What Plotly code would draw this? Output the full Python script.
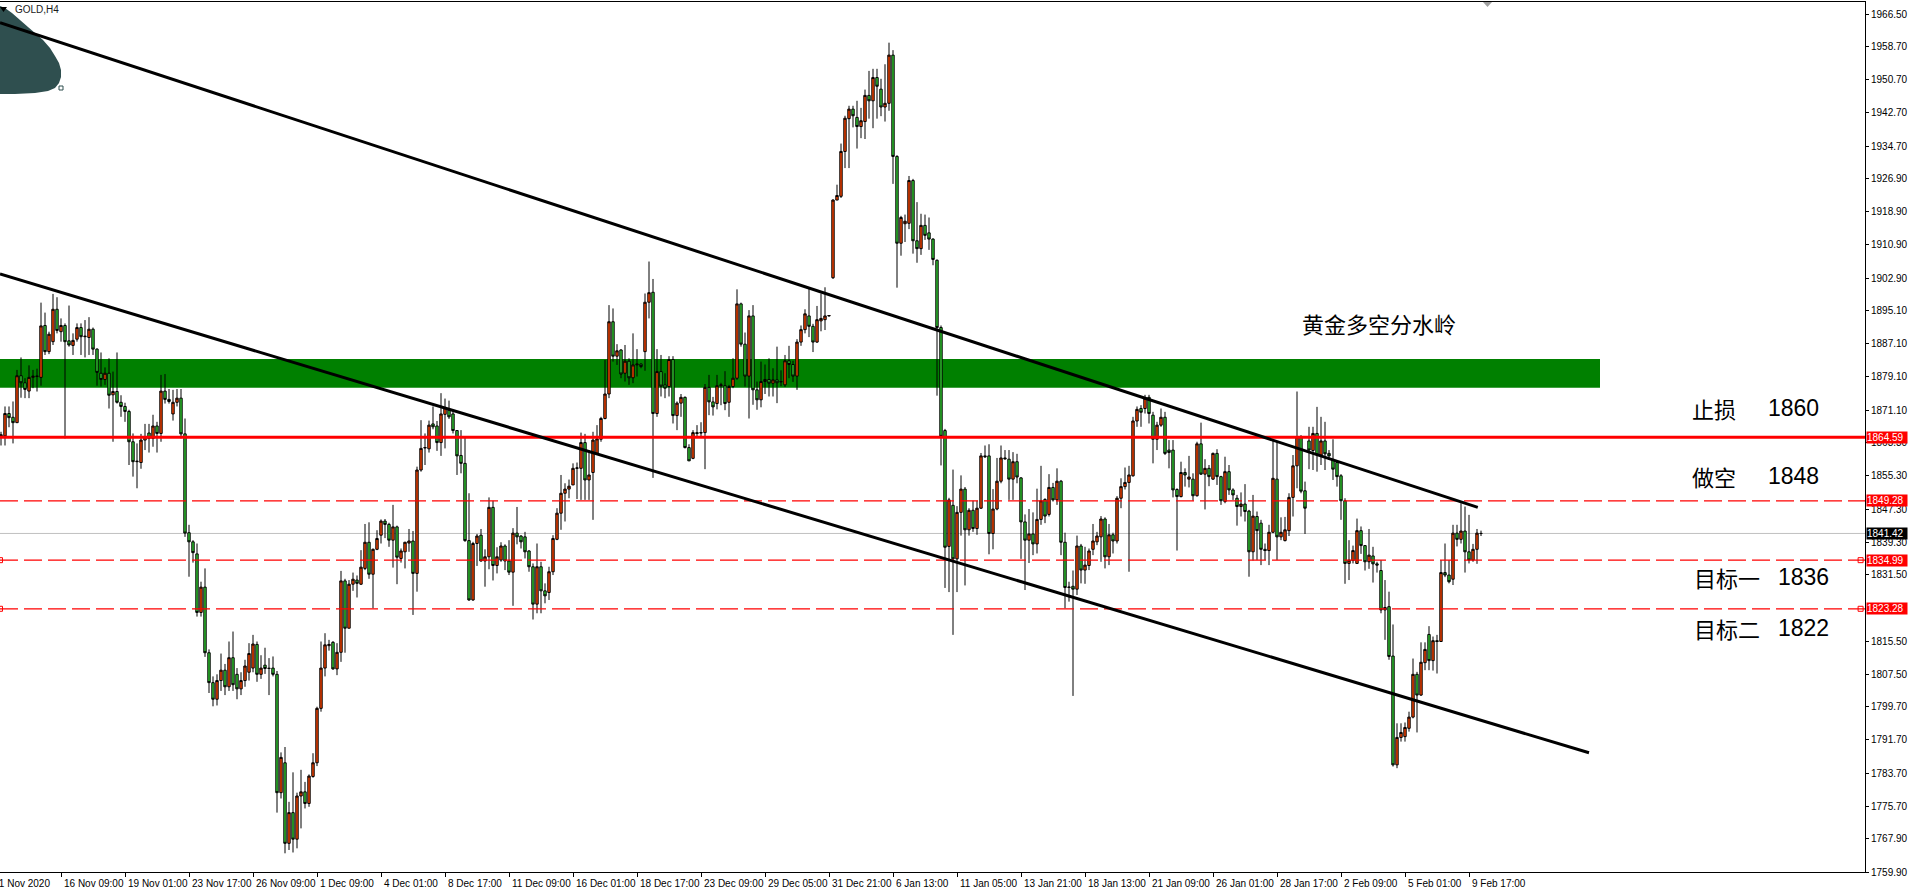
import plotly.graph_objects as go

# ---------------- data (GOLD, H4) ----------------
open_ = [
    1865.2, 1864.9, 1870.3, 1869.4, 1868.1, 1879.4, 1877.7, 1875.7, 1879.0, 1879.2,
    1879.0, 1891.5, 1885.2, 1887.6, 1895.4, 1890.0, 1891.5, 1887.8, 1886.7, 1888.2,
    1891.0, 1888.8, 1888.6, 1890.6, 1885.8, 1880.0, 1878.5, 1880.0, 1874.8, 1875.6,
    1873.0, 1872.0, 1870.8, 1863.5, 1858.7, 1858.5, 1863.9, 1865.6, 1864.3, 1867.3,
    1865.5, 1875.7, 1873.7, 1870.2, 1873.0, 1874.0, 1865.4, 1841.6, 1839.4, 1836.5,
    1822.4, 1828.5, 1812.7, 1805.5, 1801.5, 1806.0, 1808.5, 1804.5, 1811.5, 1807.5,
    1804.0, 1806.0, 1808.0, 1809.0, 1814.7, 1807.5, 1809.7, 1808.9, 1809.0, 1807.5,
    1779.0, 1786.2, 1766.8, 1774.2, 1767.8, 1778.2, 1779.2, 1776.4, 1782.9, 1786.2,
    1799.3, 1809.0, 1814.4, 1815.2, 1808.8, 1812.8, 1830.0, 1818.6, 1829.2, 1830.2,
    1829.2, 1833.0, 1839.3, 1831.6, 1837.6, 1841.0, 1844.4, 1843.6, 1839.8, 1843.0,
    1835.4, 1837.0, 1839.1, 1839.6, 1831.8, 1856.7, 1862.0, 1861.8, 1867.8, 1867.3,
    1863.3, 1870.1, 1871.1, 1870.2, 1866.2, 1860.2, 1858.3, 1839.7, 1825.4, 1839.0,
    1841.0, 1834.8, 1835.8, 1847.7, 1833.7, 1835.0, 1838.4, 1834.8, 1832.1, 1841.5,
    1840.8, 1840.6, 1837.2, 1833.4, 1824.4, 1833.4, 1827.6, 1827.2, 1832.2, 1840.0,
    1846.3, 1851.1, 1852.1, 1853.1, 1857.1, 1857.1, 1863.3, 1854.3, 1856.1, 1860.7,
    1864.1, 1869.1, 1875.0, 1892.4, 1884.1, 1885.6, 1880.0, 1882.9, 1878.9, 1882.0,
    1882.2, 1885.2, 1897.1, 1899.5, 1870.3, 1880.4, 1877.2, 1876.8, 1883.3, 1869.8,
    1872.8, 1874.2, 1862.1, 1859.5, 1865.7, 1865.6, 1865.7, 1876.6, 1873.1, 1872.7,
    1877.0, 1877.0, 1873.0, 1876.8, 1878.8, 1896.7, 1887.0, 1879.3, 1893.8, 1876.0,
    1873.6, 1878.0, 1878.5, 1877.6, 1878.4, 1877.9, 1877.2, 1883.0, 1882.1, 1879.3,
    1887.5, 1890.5, 1893.8, 1891.3, 1887.5, 1892.6, 1892.9, 1893.8, 1903.0, 1921.7,
    1922.6, 1933.4, 1941.3, 1943.6, 1941.6, 1939.4, 1940.6, 1946.9, 1945.6, 1951.2,
    1948.4, 1944.1, 1945.0, 1956.6, 1932.2, 1911.3, 1916.0, 1916.1, 1926.4, 1911.9,
    1910.0, 1915.6, 1913.8, 1912.3, 1907.2, 1891.0, 1866.2, 1838.3, 1848.2, 1835.3,
    1846.5, 1852.1, 1842.3, 1847.0, 1842.6, 1847.5, 1860.1, 1860.1, 1841.4, 1847.3,
    1854.0, 1859.6, 1859.3, 1854.5, 1858.7, 1854.8, 1844.2, 1839.8, 1841.3, 1838.9,
    1844.8, 1849.6, 1846.0, 1852.5, 1849.5, 1854.0, 1839.3, 1828.4, 1828.7, 1828.0,
    1838.4, 1832.6, 1833.7, 1837.6, 1839.4, 1840.6, 1844.9, 1835.8, 1841.1, 1839.6,
    1849.9, 1852.7, 1853.7, 1855.3, 1868.5, 1871.5, 1871.5, 1874.2, 1869.9, 1864.1,
    1867.5, 1869.4, 1861.5, 1861.5, 1852.0, 1850.3, 1856.1, 1854.5, 1854.5, 1850.5,
    1863.0, 1855.7, 1857.1, 1854.5, 1860.7, 1855.1, 1849.1, 1856.3, 1851.9, 1849.9,
    1847.9, 1848.5, 1846.8, 1837.0, 1845.5, 1843.9, 1837.6, 1837.3, 1841.7, 1854.5,
    1840.6, 1839.7, 1842.1, 1850.1, 1857.7, 1864.6, 1851.7, 1863.7, 1861.4, 1865.5,
    1860.3, 1863.7, 1860.7, 1859.1, 1858.5, 1855.3, 1849.3, 1834.2, 1834.9, 1834.2,
    1842.1, 1838.5, 1834.6, 1836.0, 1834.1, 1832.5, 1823.0, 1823.8, 1811.9, 1785.7,
    1792.3, 1792.5, 1794.5, 1797.2, 1807.5, 1802.5, 1810.3, 1817.1, 1810.8, 1815.6,
    1815.4, 1832.0, 1831.4, 1830.4, 1841.5, 1840.0, 1842.0, 1837.0, 1835.0, 1837.6,
    1841.4,
]
high = [
    1865.9, 1872.0, 1872.0, 1873.2, 1880.8, 1883.8, 1878.8, 1881.9, 1880.8, 1881.1,
    1897.0, 1894.6, 1890.0, 1899.1, 1898.3, 1893.2, 1892.0, 1896.3, 1889.6, 1892.0,
    1892.0, 1892.8, 1893.5, 1891.0, 1886.0, 1885.0, 1881.4, 1883.6, 1880.4, 1885.0,
    1874.7, 1872.9, 1871.2, 1865.5, 1863.1, 1865.4, 1867.8, 1867.8, 1870.0, 1868.3,
    1879.6, 1879.8, 1876.2, 1876.0, 1876.2, 1876.2, 1869.1, 1843.5, 1839.8, 1839.0,
    1829.8, 1833.0, 1813.5, 1807.0, 1807.5, 1812.5, 1810.0, 1815.4, 1817.8, 1809.0,
    1808.0, 1811.0, 1815.0, 1817.0, 1815.4, 1812.1, 1813.9, 1811.4, 1811.8, 1808.3,
    1788.7, 1790.0, 1776.8, 1783.9, 1779.0, 1784.5, 1781.6, 1783.4, 1788.5, 1799.7,
    1815.4, 1817.4, 1815.8, 1815.5, 1815.0, 1832.4, 1830.5, 1830.2, 1832.0, 1831.3,
    1837.4, 1843.7, 1844.1, 1837.8, 1842.2, 1844.8, 1844.9, 1844.0, 1848.3, 1843.3,
    1837.8, 1839.4, 1842.5, 1842.0, 1857.5, 1868.7, 1865.5, 1868.6, 1872.0, 1868.5,
    1875.2, 1873.9, 1873.4, 1871.0, 1866.3, 1866.3, 1864.7, 1851.1, 1839.4, 1841.3,
    1842.5, 1837.6, 1850.1, 1849.3, 1838.1, 1839.3, 1838.8, 1839.8, 1842.7, 1847.8,
    1841.0, 1841.8, 1837.4, 1834.2, 1839.0, 1834.6, 1829.4, 1833.4, 1841.0, 1847.5,
    1855.5, 1853.5, 1854.4, 1858.3, 1858.5, 1865.7, 1865.4, 1861.5, 1865.9, 1867.5,
    1869.5, 1883.2, 1896.4, 1895.6, 1887.0, 1885.8, 1886.8, 1883.6, 1889.6, 1885.8,
    1882.4, 1899.2, 1906.9, 1902.7, 1885.8, 1884.4, 1880.0, 1884.1, 1884.1, 1873.2,
    1875.0, 1874.4, 1862.9, 1866.3, 1867.5, 1868.2, 1877.4, 1879.6, 1874.3, 1879.6,
    1877.7, 1880.5, 1877.2, 1883.6, 1900.2, 1897.0, 1889.8, 1895.2, 1896.4, 1878.0,
    1882.8, 1882.1, 1883.6, 1881.2, 1886.4, 1880.7, 1884.4, 1886.6, 1883.0, 1888.2,
    1891.5, 1895.4, 1900.4, 1891.9, 1896.2, 1899.2, 1900.7, 1894.0, 1921.9, 1925.4,
    1935.3, 1942.0, 1944.4, 1944.4, 1945.6, 1943.9, 1948.3, 1952.8, 1953.3, 1953.3,
    1950.9, 1954.4, 1959.6, 1957.8, 1932.5, 1917.9, 1918.2, 1927.5, 1926.8, 1921.2,
    1918.4, 1918.2, 1917.5, 1912.5, 1907.4, 1891.5, 1866.6, 1850.0, 1856.8, 1848.0,
    1855.4, 1852.6, 1847.5, 1849.3, 1849.3, 1860.8, 1862.6, 1862.9, 1852.1, 1859.6,
    1862.6, 1861.5, 1861.5, 1861.0, 1860.6, 1855.0, 1846.0, 1847.3, 1846.5, 1852.2,
    1857.7, 1849.9, 1855.7, 1853.6, 1857.1, 1854.3, 1841.6, 1829.8, 1832.5, 1840.9,
    1838.9, 1838.2, 1837.8, 1843.7, 1841.8, 1845.6, 1845.3, 1843.7, 1841.6, 1850.4,
    1854.7, 1857.3, 1857.7, 1869.5, 1872.0, 1872.3, 1874.8, 1874.8, 1870.7, 1868.3,
    1871.5, 1870.7, 1863.9, 1863.9, 1852.3, 1858.7, 1857.1, 1860.1, 1855.9, 1863.5,
    1868.1, 1859.3, 1857.9, 1860.9, 1861.7, 1855.3, 1859.9, 1857.9, 1852.3, 1850.7,
    1851.3, 1853.3, 1847.1, 1850.7, 1846.7, 1844.7, 1839.0, 1843.5, 1863.9, 1863.5,
    1845.3, 1845.4, 1851.1, 1860.3, 1875.6, 1865.1, 1853.9, 1867.1, 1867.1, 1871.9,
    1869.5, 1868.3, 1861.5, 1864.1, 1859.1, 1855.7, 1849.9, 1839.8, 1838.5, 1845.0,
    1843.1, 1838.6, 1842.5, 1838.2, 1834.6, 1835.0, 1830.2, 1827.4, 1819.5, 1795.7,
    1795.7, 1795.9, 1798.5, 1811.3, 1808.1, 1815.2, 1815.2, 1819.1, 1816.6, 1817.0,
    1835.0, 1839.0, 1835.0, 1843.5, 1843.5, 1848.7, 1847.9, 1845.9, 1838.9, 1842.5,
    1842.1,
]
low = [
    1862.6, 1862.6, 1867.0, 1863.1, 1868.0, 1874.1, 1874.0, 1874.0, 1876.4, 1875.6,
    1877.0, 1884.4, 1884.6, 1886.8, 1889.6, 1887.6, 1864.3, 1886.4, 1884.4, 1887.6,
    1884.4, 1883.8, 1884.4, 1884.4, 1877.0, 1876.8, 1877.2, 1871.5, 1863.5, 1872.7,
    1869.5, 1868.3, 1857.9, 1855.1, 1852.3, 1857.0, 1861.5, 1860.9, 1862.3, 1860.9,
    1863.5, 1872.7, 1872.7, 1868.6, 1872.0, 1864.3, 1840.6, 1831.0, 1834.4, 1821.4,
    1821.4, 1811.7, 1803.0, 1799.8, 1800.0, 1803.5, 1802.5, 1803.5, 1803.5, 1801.5,
    1802.5, 1804.5, 1806.0, 1808.0, 1805.7, 1806.4, 1807.6, 1802.5, 1807.0, 1774.2,
    1777.6, 1764.4, 1765.2, 1764.6, 1765.6, 1770.4, 1775.2, 1775.6, 1782.6, 1785.4,
    1798.5, 1807.0, 1813.2, 1808.6, 1807.3, 1810.5, 1812.7, 1818.6, 1827.6, 1826.0,
    1829.0, 1832.6, 1830.5, 1823.4, 1837.4, 1839.0, 1840.3, 1838.2, 1833.2, 1829.2,
    1834.4, 1833.0, 1837.0, 1821.8, 1827.4, 1856.3, 1857.9, 1860.9, 1866.5, 1861.3,
    1860.1, 1861.9, 1869.0, 1865.5, 1855.5, 1855.9, 1839.4, 1825.2, 1825.2, 1833.6,
    1834.6, 1828.6, 1832.8, 1830.1, 1831.8, 1834.6, 1832.6, 1831.4, 1824.0, 1838.8,
    1837.8, 1835.4, 1832.2, 1820.7, 1822.2, 1822.2, 1824.6, 1825.4, 1831.4, 1839.8,
    1842.3, 1844.3, 1849.9, 1853.1, 1849.7, 1849.5, 1849.5, 1849.5, 1844.7, 1860.3,
    1863.5, 1868.9, 1874.0, 1882.8, 1882.0, 1878.8, 1878.0, 1877.2, 1877.6, 1879.2,
    1881.2, 1880.6, 1893.2, 1854.8, 1869.5, 1874.4, 1874.0, 1874.4, 1867.9, 1866.3,
    1869.5, 1861.9, 1858.9, 1859.3, 1864.7, 1864.7, 1856.9, 1869.9, 1869.8, 1871.3,
    1872.3, 1871.1, 1869.5, 1876.4, 1878.4, 1886.4, 1876.8, 1869.1, 1872.4, 1871.2,
    1871.8, 1875.0, 1874.4, 1874.4, 1872.8, 1876.9, 1876.7, 1878.8, 1877.9, 1876.0,
    1886.6, 1889.6, 1888.7, 1885.1, 1887.3, 1890.1, 1890.4, 1893.6, 1902.7, 1921.7,
    1922.2, 1929.4, 1929.4, 1939.2, 1934.1, 1936.6, 1936.4, 1941.3, 1939.0, 1941.3,
    1941.9, 1940.6, 1943.2, 1925.6, 1900.6, 1908.3, 1911.6, 1914.7, 1908.8, 1906.6,
    1908.5, 1912.1, 1909.7, 1906.0, 1874.6, 1857.8, 1828.3, 1827.3, 1817.0, 1827.3,
    1840.9, 1828.9, 1840.9, 1841.8, 1841.1, 1847.3, 1859.6, 1836.4, 1837.6, 1847.0,
    1853.5, 1859.2, 1849.5, 1849.5, 1853.5, 1835.3, 1827.8, 1834.3, 1836.2, 1836.6,
    1843.5, 1843.9, 1845.5, 1849.1, 1848.3, 1836.2, 1823.4, 1825.0, 1802.3, 1826.6,
    1829.4, 1829.3, 1832.6, 1836.2, 1838.6, 1834.6, 1833.0, 1833.8, 1836.6, 1839.0,
    1847.5, 1852.0, 1832.2, 1855.1, 1867.1, 1867.1, 1870.3, 1867.9, 1858.3, 1861.5,
    1867.1, 1860.3, 1857.1, 1850.1, 1837.3, 1850.1, 1852.7, 1852.5, 1849.3, 1850.3,
    1855.5, 1847.2, 1852.8, 1854.3, 1853.1, 1848.3, 1848.7, 1850.7, 1849.5, 1843.3,
    1845.5, 1844.3, 1831.0, 1834.9, 1835.0, 1833.8, 1835.0, 1833.8, 1841.5, 1835.0,
    1839.8, 1839.5, 1840.8, 1845.5, 1852.3, 1851.1, 1841.3, 1856.9, 1856.7, 1856.3,
    1857.9, 1856.7, 1859.1, 1854.3, 1852.7, 1844.7, 1829.3, 1830.2, 1834.2, 1834.1,
    1836.5, 1832.5, 1832.9, 1829.6, 1832.0, 1822.2, 1815.8, 1811.0, 1785.3, 1784.9,
    1791.3, 1791.3, 1793.7, 1796.9, 1793.5, 1802.3, 1808.5, 1808.5, 1808.4, 1807.7,
    1815.4, 1830.9, 1829.4, 1829.0, 1838.3, 1839.0, 1832.0, 1834.2, 1834.6, 1834.1,
    1840.8,
]
close = [
    1864.9, 1870.3, 1869.3, 1868.1, 1879.4, 1877.7, 1876.1, 1879.0, 1879.3, 1879.3,
    1891.4, 1885.2, 1889.4, 1895.4, 1890.3, 1891.5, 1887.6, 1886.8, 1887.9, 1891.0,
    1888.8, 1888.9, 1890.6, 1885.8, 1880.2, 1878.5, 1880.0, 1874.7, 1875.6, 1873.0,
    1872.0, 1870.8, 1863.5, 1858.7, 1858.8, 1863.9, 1864.7, 1864.3, 1867.3, 1865.5,
    1875.7, 1873.7, 1873.2, 1873.0, 1874.0, 1865.4, 1841.5, 1839.4, 1836.8, 1822.4,
    1828.5, 1812.7, 1805.5, 1801.5, 1806.0, 1808.5, 1804.5, 1811.5, 1805.0, 1804.0,
    1806.0, 1809.5, 1812.5, 1814.8, 1807.5, 1809.0, 1808.9, 1808.95, 1807.5, 1779.0,
    1787.5, 1766.8, 1774.2, 1767.8, 1778.2, 1779.2, 1776.4, 1783.0, 1786.2, 1799.3,
    1809.0, 1814.6, 1814.7, 1808.8, 1812.8, 1830.0, 1818.6, 1829.2, 1830.4, 1829.4,
    1833.3, 1839.3, 1831.6, 1837.6, 1840.2, 1844.4, 1843.6, 1839.8, 1843.0, 1835.7,
    1837.2, 1839.3, 1839.6, 1831.8, 1856.7, 1861.9, 1862.1, 1867.5, 1867.1, 1863.3,
    1870.2, 1871.7, 1869.5, 1866.2, 1860.1, 1858.3, 1839.7, 1825.4, 1839.0, 1840.8,
    1834.8, 1835.8, 1847.7, 1833.7, 1835.8, 1838.4, 1834.8, 1832.1, 1841.5, 1840.6,
    1839.4, 1837.0, 1833.4, 1824.4, 1833.4, 1827.6, 1826.4, 1832.2, 1840.2, 1846.3,
    1851.1, 1852.1, 1852.8, 1857.1, 1857.2, 1863.3, 1854.3, 1855.5, 1863.9, 1864.2,
    1869.1, 1875.0, 1892.4, 1884.1, 1885.4, 1879.8, 1882.9, 1878.9, 1882.0, 1882.2,
    1881.6, 1897.1, 1899.4, 1870.3, 1880.4, 1876.9, 1876.4, 1883.3, 1869.8, 1872.8,
    1874.2, 1862.1, 1858.9, 1865.7, 1865.5, 1865.7, 1876.6, 1873.1, 1871.9, 1877.0,
    1877.2, 1872.7, 1876.8, 1878.8, 1896.7, 1887.0, 1879.3, 1893.8, 1876.0, 1873.6,
    1878.0, 1878.5, 1877.6, 1878.4, 1877.7, 1878.0, 1883.0, 1882.1, 1879.3, 1887.5,
    1890.5, 1894.3, 1891.3, 1887.5, 1892.9, 1893.2, 1893.8, 1893.9, 1921.7, 1922.8,
    1933.4, 1941.4, 1943.6, 1942.0, 1939.4, 1940.8, 1946.9, 1945.6, 1951.2, 1949.1,
    1944.1, 1945.0, 1956.6, 1932.2, 1911.3, 1917.5, 1916.6, 1926.4, 1911.9, 1910.0,
    1915.6, 1913.2, 1912.3, 1907.4, 1891.0, 1864.8, 1838.1, 1849.5, 1835.3, 1846.5,
    1852.1, 1842.3, 1847.0, 1842.6, 1847.5, 1860.1, 1859.9, 1841.4, 1847.3, 1854.0,
    1859.6, 1859.4, 1854.5, 1858.7, 1855.0, 1844.2, 1839.8, 1841.3, 1838.9, 1844.8,
    1849.3, 1845.6, 1852.5, 1849.5, 1854.0, 1839.3, 1828.4, 1828.5, 1828.0, 1838.4,
    1832.6, 1833.8, 1837.2, 1839.6, 1840.8, 1844.9, 1835.8, 1841.1, 1839.6, 1849.9,
    1852.7, 1853.7, 1855.5, 1868.5, 1871.3, 1870.6, 1874.0, 1870.3, 1864.1, 1867.5,
    1869.4, 1860.7, 1860.9, 1851.9, 1850.3, 1856.1, 1855.5, 1855.0, 1850.5, 1863.0,
    1855.7, 1857.1, 1855.1, 1860.7, 1855.1, 1849.3, 1856.3, 1851.9, 1850.7, 1847.9,
    1848.5, 1846.7, 1837.0, 1845.6, 1842.1, 1837.6, 1837.3, 1841.7, 1854.7, 1840.6,
    1841.7, 1842.3, 1850.1, 1857.7, 1864.7, 1851.6, 1847.5, 1861.5, 1865.5, 1860.3,
    1863.7, 1860.6, 1860.1, 1856.9, 1855.1, 1849.3, 1834.2, 1835.0, 1837.3, 1842.1,
    1838.5, 1834.6, 1836.2, 1834.1, 1833.8, 1823.0, 1823.6, 1811.8, 1785.7, 1792.3,
    1793.5, 1794.7, 1797.2, 1807.5, 1802.5, 1810.4, 1813.5, 1810.8, 1815.6, 1815.4,
    1832.0, 1831.4, 1829.8, 1841.5, 1840.0, 1842.0, 1837.0, 1835.0, 1837.6, 1841.5,
    1841.42,
]
bars = list(range(len(close)))

time_labels = [
    "11 Nov 2020", "16 Nov 09:00", "19 Nov 01:00", "23 Nov 17:00", "26 Nov 09:00",
    "1 Dec 09:00", "4 Dec 01:00", "8 Dec 17:00", "11 Dec 09:00", "16 Dec 01:00",
    "18 Dec 17:00", "23 Dec 09:00", "29 Dec 05:00", "31 Dec 21:00", "6 Jan 13:00",
    "11 Jan 05:00", "13 Jan 21:00", "18 Jan 13:00", "21 Jan 09:00", "26 Jan 01:00",
    "28 Jan 17:00", "2 Feb 09:00", "5 Feb 01:00", "9 Feb 17:00",
]
label_step = 16          # one time label every 16 bars
first_label_bar = -1

# price scale labels (1823.50 is hidden under the 1823.28 tag in the original)
price_ticks = [1966.50, 1958.70, 1950.70, 1942.70, 1934.70, 1926.90, 1918.90, 1910.90,
               1902.90, 1895.10, 1887.10, 1879.10, 1871.10, 1863.30, 1855.30, 1847.30,
               1839.30, 1831.50, 1815.50, 1807.50, 1799.70, 1791.70, 1783.70,
               1775.70, 1767.90, 1759.90]

stop_level = 1864.59
short_level = 1849.28
bid_level = 1841.42
target1_level = 1834.99
target2_level = 1823.28
zone_low, zone_high = 1876.5, 1883.4
zone_end_bar = 399.75
upper_trend_bars, upper_trend_prices = [-0.25, 369.2], [1964.4, 1847.7]
lower_trend_bars, lower_trend_prices = [-0.25, 397.0], [1903.9, 1788.6]

# ---------------- layout geometry ----------------
W, H = 1908, 895
ML, MR, MT, MB = 0, 43, 2, 23
PW, PH = W - ML - MR, H - MT - MB
BAR_PX = 4.0
X0 = -0.25
X_RANGE = [X0, X0 + PW / BAR_PX]      # 4 px per bar
Y_RANGE = [1759.9, 1969.39]


def pxx(px):
    return px / PW


def pxy(py):
    return 1 - (py - MT) / PH


def bar_to_paper(b):
    return (b - X0) * BAR_PX / PW


fig = go.Figure()
fig.add_trace(go.Candlestick(
    x=bars, open=open_, high=high, low=low, close=close,
    increasing=dict(fillcolor="#FF4500", line=dict(color="black", width=1)),
    decreasing=dict(fillcolor="#32CD32", line=dict(color="black", width=1)),
    whiskerwidth=0, showlegend=False, hoverinfo="skip",
))

# small end squares of the target lines
fig.add_trace(go.Scatter(
    x=[X_RANGE[0], X_RANGE[0], 464.9, 464.9],
    y=[target1_level, target2_level, target1_level, target2_level],
    mode="markers", showlegend=False, hoverinfo="skip",
    marker=dict(symbol="square", size=5, color="white", line=dict(color="red", width=1)),
))

shapes = []
# green watershed zone (background)
shapes.append(dict(type="rect", xref="x", yref="y", x0=X_RANGE[0] - 1, x1=zone_end_bar,
                   y0=zone_low, y1=zone_high, fillcolor="#008000", line=dict(width=0),
                   layer="below"))
# bid line
shapes.append(dict(type="line", xref="paper", yref="y", x0=0, x1=1, y0=bid_level, y1=bid_level,
                   line=dict(color="#C0C0C0", width=1), layer="below"))
# blob at top-left
blob_px = [(0, 6), (5, 8), (12, 13), (20, 20), (28, 27), (35, 33), (43, 40), (50, 48),
           (55, 56), (59, 63), (61, 70), (61, 77), (59, 83), (55, 88), (48, 91), (35, 93),
           (15, 94), (0, 94)]
path = "M " + " L ".join(f"{pxx(a):.5f},{pxy(b):.5f}" for a, b in blob_px) + " Z"
shapes.append(dict(type="path", xref="paper", yref="paper", path=path,
                   fillcolor="#2F4F4F", line=dict(width=0), layer="below"))
shapes.append(dict(type="rect", xref="paper", yref="paper", x0=pxx(59), x1=pxx(63),
                   y0=pxy(90), y1=pxy(86), fillcolor="white",
                   line=dict(color="#2F4F4F", width=1)))
# horizontal levels
shapes.append(dict(type="line", xref="paper", yref="y", x0=0, x1=1, y0=stop_level, y1=stop_level,
                   line=dict(color="#FF0000", width=3)))
for lv in (short_level, target1_level, target2_level):
    shapes.append(dict(type="line", xref="paper", yref="y", x0=0, x1=1, y0=lv, y1=lv,
                       line=dict(color="#FF0000", width=1.3, dash="18px,6px")))
# trend lines
shapes.append(dict(type="line", xref="x", yref="y",
                   x0=upper_trend_bars[0], x1=upper_trend_bars[1],
                   y0=upper_trend_prices[0], y1=upper_trend_prices[1],
                   line=dict(color="black", width=3)))
shapes.append(dict(type="line", xref="x", yref="y",
                   x0=lower_trend_bars[0], x1=lower_trend_bars[1],
                   y0=lower_trend_prices[0], y1=lower_trend_prices[1],
                   line=dict(color="black", width=3)))
# small triangles at top
shapes.append(dict(type="path", xref="paper", yref="paper",
                   path=f"M {pxx(0)},{pxy(7)} L {pxx(7)},{pxy(7)} L {pxx(3.5)},{pxy(12)} Z",
                   fillcolor="black", line=dict(width=0)))
shapes.append(dict(type="path", xref="paper", yref="paper",
                   path=f"M {pxx(1483)},{pxy(2)} L {pxx(1492)},{pxy(2)} L {pxx(1487.5)},{pxy(7)} Z",
                   fillcolor="#A0A0A0", line=dict(width=0)))

annotations = []
# time labels (left aligned right after their tick); the first one runs off the left edge
for i, lab in enumerate(time_labels):
    xb = first_label_bar + label_step * i
    annotations.append(dict(x=bar_to_paper(xb), xref="paper", y=0, yref="paper", text=lab,
                            showarrow=False, xanchor="left", yanchor="top",
                            xshift=(-5 if i == 0 else 1), yshift=-4,
                            font=dict(family="Liberation Sans", size=10, color="black")))
# price tags on the axis
for lv, bg in ((stop_level, "#FF0000"), (short_level, "#FF0000"), (bid_level, "#000000"),
               (target1_level, "#FF0000"), (target2_level, "#FF0000")):
    annotations.append(dict(x=1, xref="paper", y=lv, yref="y", text=f"{lv:.2f}",
                            showarrow=False, xanchor="left", yanchor="middle", xshift=1,
                            bgcolor=bg, width=40, height=11, align="left", borderpad=0,
                            font=dict(family="Liberation Sans", size=10, color="white")))
# symbol title
annotations.append(dict(x=pxx(13), xref="paper", y=pxy(9.5), yref="paper", text="GOLD,H4",
                        showarrow=False, xanchor="left", yanchor="middle",
                        font=dict(family="Liberation Sans", size=10, color="#1a1a1a")))
# chart notes
cjk = dict(family="Noto Sans CJK SC", size=22, color="black")
num = dict(family="Liberation Sans", size=23, color="black")
notes = [("黄金多空分水岭", 1300, 323, cjk),
         ("止损", 1690, 408, cjk), ("1860", 1766, 408, num),
         ("做空", 1690, 476, cjk), ("1848", 1766, 476, num),
         ("目标一", 1692, 577, cjk), ("1836", 1776, 577, num),
         ("目标二", 1692, 628, cjk), ("1822", 1776, 628, num)]
for txt, x, y, f in notes:
    annotations.append(dict(x=pxx(x), xref="paper", y=pxy(y), yref="paper", text=txt,
                            showarrow=False, xanchor="left", yanchor="middle", font=f))

fig.update_layout(
    width=W, height=H,
    margin=dict(l=ML, r=MR, t=MT, b=MB, pad=0),
    paper_bgcolor="white", plot_bgcolor="white",
    showlegend=False, hovermode=False,
    boxgap=0.2, boxgroupgap=0.25,
    shapes=shapes, annotations=annotations,
    font=dict(family="Liberation Sans", size=10, color="black"),
    xaxis=dict(range=X_RANGE, showgrid=False, zeroline=False, rangeslider=dict(visible=False),
               showline=True, linecolor="black", linewidth=1, mirror=True,
               tickmode="array",
               tickvals=[first_label_bar + label_step * i for i in range(len(time_labels))],
               ticktext=[""] * len(time_labels),
               ticks="outside", ticklen=4, tickcolor="black", showticklabels=False),
    yaxis=dict(range=Y_RANGE, side="right", showgrid=False, zeroline=False,
               showline=True, linecolor="black", linewidth=1,
               tickmode="array", tickvals=price_ticks,
               ticktext=[f"{v:.2f}" for v in price_ticks],
               ticks="outside", ticklen=3, tickcolor="black",
               tickfont=dict(family="Liberation Sans", size=10, color="black")),
)

fig.write_html("out.html", config={"displayModeBar": False},
               post_script="document.body.style.margin='0';document.body.style.overflow='hidden';")
